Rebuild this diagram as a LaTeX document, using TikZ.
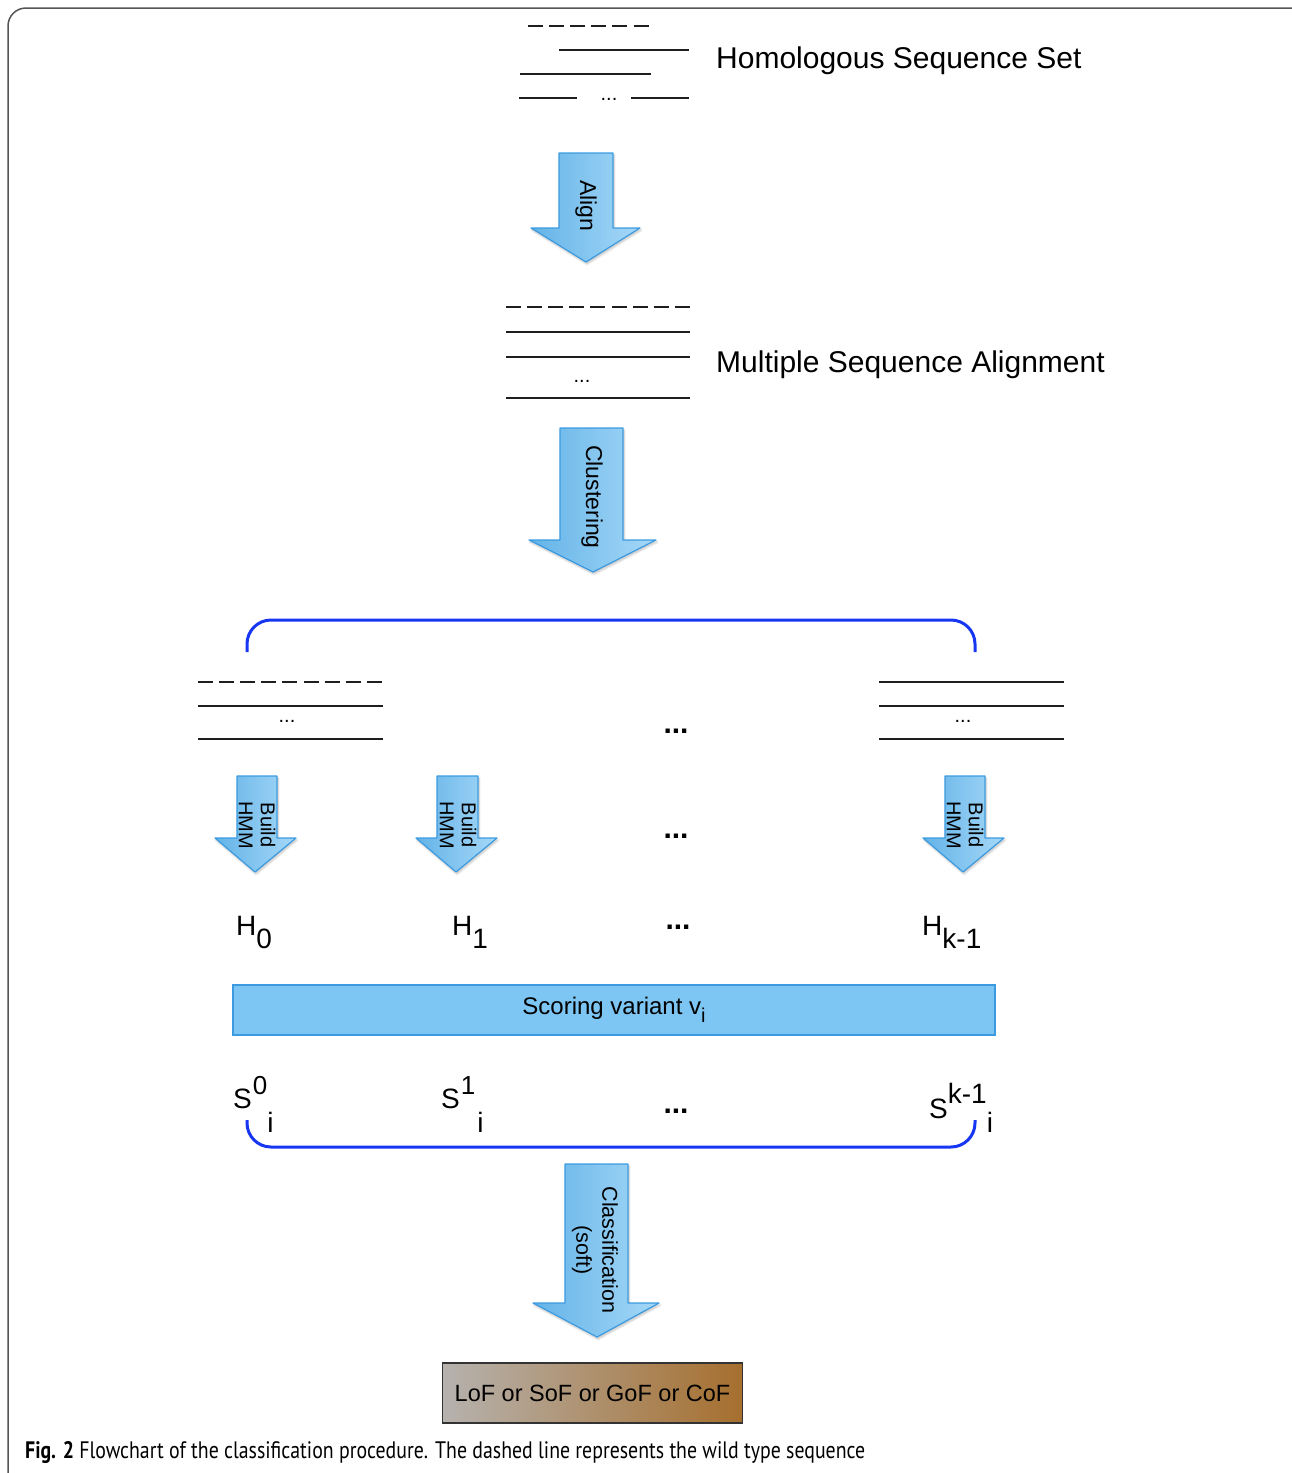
\documentclass[tikz,border=0pt]{standalone}
\usepackage{fontspec}
\setmainfont{Liberation Sans}
\newfontfamily\capfont{PT Sans}
\usetikzlibrary{shadows.blur}

\definecolor{seq}{HTML}{1E1E1E}
\definecolor{arrowedge}{HTML}{3C9BE0}
\definecolor{arrowleft}{HTML}{63B3E8}
\definecolor{arrowright}{HTML}{A6D8F7}
\definecolor{scorefill}{HTML}{7DC5F2}
\definecolor{bracketblue}{HTML}{1636F2}
\definecolor{resgrey}{HTML}{B6B2AE}
\definecolor{resbrown}{HTML}{A66F2E}
\definecolor{framegrey}{HTML}{555555}

\begin{document}
\begin{tikzpicture}[x=1pt,y=-1pt,
  seqline/.style={line width=2pt, draw=seq},
  wildtype/.style={seqline, dash pattern=on 15pt off 6.1pt},
  blockarrow/.style={draw=arrowedge, line width=1.2pt, line join=round,
    left color=arrowleft, right color=arrowright,
    blur shadow={shadow xshift=1pt, shadow yshift=-2pt, shadow opacity=25, shadow blur steps=6}},
  rottext/.style={rotate=-90, inner sep=0, align=center, font=\fontsize{23}{26}\selectfont},
  smalltext/.style={rotate=-90, inner sep=0, align=center, font=\fontsize{20}{22}\selectfont},
  title/.style={anchor=base west, inner sep=0, font=\fontsize{30}{36}\selectfont},
  seqdots/.style={anchor=base, inner sep=0, font=\fontsize{20}{24}\selectfont},
  bigdots/.style={anchor=base, inner sep=0, font=\bfseries\fontsize{30}{36}\selectfont},
  hlabel/.style={anchor=base west, inner sep=0, font=\fontsize{28}{32}\selectfont},
  bracket/.style={draw=bracketblue, line width=3pt, rounded corners=24pt},
]
\useasboundingbox (0,0) rectangle (1291,1473);

% outer frame
\draw[framegrey, line width=1.5pt, rounded corners=18pt] (8,1500) -- (8,8) -- (1320,8);

% homologous sequence set
\draw[wildtype] (528,26) -- (652,26);
\draw[seqline] (559,50) -- (689,50);
\draw[seqline] (520,74) -- (651,74);
\draw[seqline] (519,98) -- (577,98);
\draw[seqline] (631,98) -- (689,98);
\node[seqdots] (hdots) at (609,100) {...};
\node[title] (homol) at (716,68) {Homologous Sequence Set};

% align
\draw[blockarrow] (559,153) -- (613,153) -- (613,228) -- (640,228) -- (586,262)
  -- (531,228) -- (559,228) -- cycle;
\node[rottext] (align) at (586,206) {Align};

% multiple sequence alignment
\draw[wildtype] (506,307) -- (692,307);
\draw[seqline] (506,332) -- (690,332);
\draw[seqline] (506,357) -- (690,357);
\draw[seqline] (506,398) -- (690,398);
\node[seqdots] (mdots) at (582,382) {...};
\node[title] (msa) at (716,372) {Multiple Sequence Alignment};

% clustering
\draw[blockarrow] (560,428) -- (623,428) -- (623,540) -- (656,540) -- (593,572)
  -- (529,540) -- (560,540) -- cycle;
\node[rottext] (clust) at (592,497) {Clustering};

% cluster bracket
\draw[bracket] (247,652) -- (247,620) -- (975,620) -- (975,652);

% clusters
\draw[wildtype] (198,682) -- (383,682);
\draw[seqline] (198,706) -- (383,706);
\draw[seqline] (198,739) -- (383,739);
\node[seqdots] (c0dots) at (287,722) {...};
\draw[seqline] (879,682) -- (1064,682);
\draw[seqline] (879,706) -- (1064,706);
\draw[seqline] (879,739) -- (1064,739);
\node[seqdots] (ckdots) at (963,722) {...};
\node[bigdots] (dots1) at (676,733) {...};

% build HMM arrows
\draw[blockarrow] (237,776) -- (277,776) -- (277,838) -- (296,838) -- (255,872)
  -- (215,838) -- (237,838) -- cycle;
\node[smalltext] (b0) at (257,825) {Build\\HMM};
\draw[blockarrow] (437,776) -- (478,776) -- (478,838) -- (497,838) -- (456,872)
  -- (416,838) -- (437,838) -- cycle;
\node[smalltext] (b1) at (458,825) {Build\\HMM};
\draw[blockarrow] (945,776) -- (985,776) -- (985,838) -- (1004,838) -- (963,872)
  -- (923,838) -- (945,838) -- cycle;
\node[smalltext] (bk) at (965,825) {Build\\HMM};
\node[bigdots] (dots2) at (676,838) {...};

% models
\node[hlabel] (h0) at (236,935) {H\raisebox{-13pt}{0}};
\node[hlabel] (h1) at (452,935) {H\raisebox{-13pt}{1}};
\node[hlabel] (hk) at (922,935) {H\raisebox{-13pt}{k-1}};
\node[bigdots] (dots3) at (678,929) {...};

% scoring
\node[draw=arrowedge, line width=1.2pt, fill=scorefill, minimum width=762pt,
  minimum height=50pt, inner sep=0, font=\fontsize{24}{28}\selectfont]
  (score) at (614,1010) {Scoring variant v\raisebox{-8pt}{\fontsize{20}{24}\selectfont i}};

% scores
\node[hlabel] (s0) at (233,1108)
  {S\kern1pt\raisebox{14pt}{\fontsize{26}{30}\selectfont 0}\raisebox{-24pt}{i}};
\node[hlabel] (s1) at (441,1108)
  {S\kern1pt\raisebox{14pt}{\fontsize{26}{30}\selectfont 1}\kern2pt\raisebox{-24pt}{i}};
\node[hlabel] (sk) at (929,1118)
  {S\raisebox{15pt}{k-1}\raisebox{-14pt}{i}};
\node[bigdots] (dots4) at (676,1113) {...};

% score bracket
\draw[bracket] (247,1120) -- (247,1147) -- (975,1147) -- (975,1120);

% classification
\draw[blockarrow] (565,1164) -- (628,1164) -- (628,1303) -- (659,1303) -- (597,1337)
  -- (533,1303) -- (565,1303) -- cycle;
\node[smalltext, font=\fontsize{21.5}{26}\selectfont] (cls) at (595,1250) {Classification\\(soft)};

% result
\node[draw=black!80, line width=1.2pt, left color=resgrey, right color=resbrown,
  minimum width=300pt, minimum height=60pt, inner sep=0,
  font=\fontsize{23.5}{28}\selectfont] (result) at (592.5,1393) {LoF or SoF or GoF or CoF};

% caption
\node[anchor=base west, inner sep=0] (caption) at (25,1458)
  {\resizebox{840pt}{17pt}{\capfont\textbf{Fig. 2} Flowchart of the classification procedure. The dashed line represents the wild type sequence}};
\end{tikzpicture}
\end{document}
